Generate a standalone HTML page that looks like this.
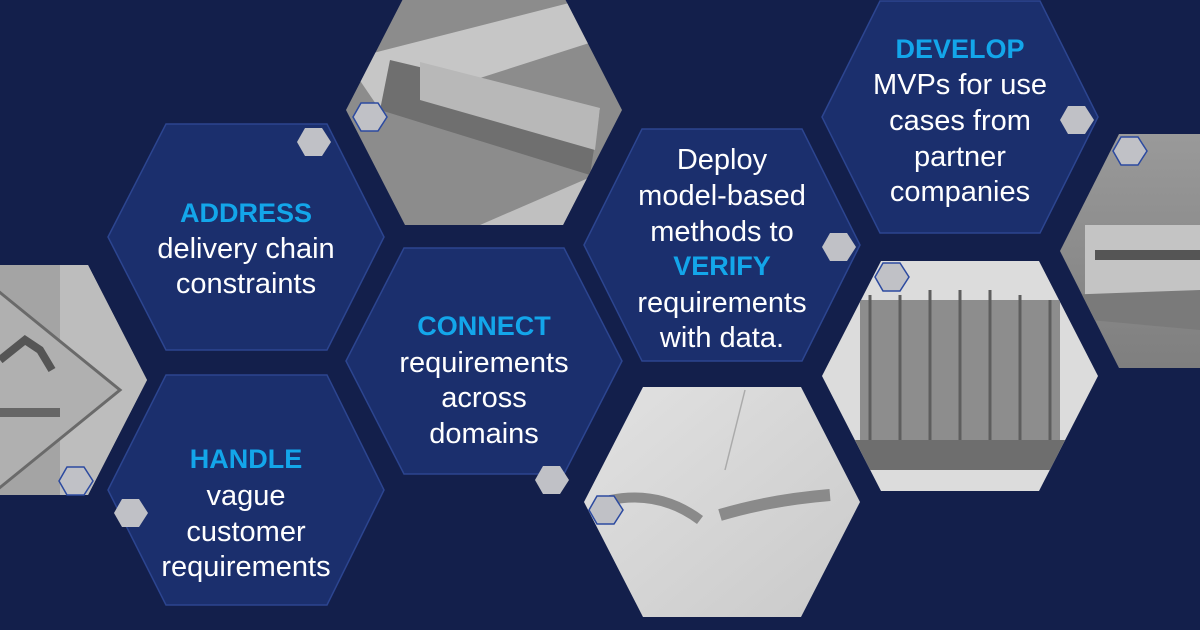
<!DOCTYPE html>
<html><head><meta charset="utf-8"><style>
html,body{margin:0;padding:0;background:#131f4b;}
svg{display:block}
text{font-family:"Liberation Sans",sans-serif;font-size:29px;fill:#fff;text-anchor:middle}
.b{fill:#13a6ea;font-weight:bold;font-size:27px}
</style></head><body>
<svg width="1200" height="630" viewBox="0 0 1200 630" xmlns="http://www.w3.org/2000/svg">
<defs>
<linearGradient id="g2" x1="0" y1="0" x2="1" y2="1"><stop offset="0" stop-color="#e2e2e2"/><stop offset="1" stop-color="#c9c9c9"/></linearGradient>
<linearGradient id="g3" x1="0" y1="0" x2="0" y2="1"><stop offset="0" stop-color="#9a9a9a"/><stop offset="1" stop-color="#7e7e7e"/></linearGradient>
<clipPath id="cSign"><polygon points="-130,380 -71,265 88,265 147,380 88,495 -71,495"/></clipPath>
<clipPath id="cShip"><polygon points="346,110 405,-5 563,-5 622,110 563,225 405,225"/></clipPath>
<clipPath id="cHands"><polygon points="584,502 643,387 801,387 860,502 801,617 643,617"/></clipPath>
<clipPath id="cEng"><polygon points="822,376 881,261 1039,261 1098,376 1039,491 881,491"/></clipPath>
<clipPath id="cBoat"><polygon points="1060,251 1119,134 1277,134 1336,251 1277,368 1119,368"/></clipPath>
</defs>
<rect width="1200" height="630" fill="#131f4b"/>

<g clip-path="url(#cSign)">
<rect x="-130" y="260" width="280" height="240" fill="#a4a4a4"/>
<rect x="60" y="260" width="90" height="240" fill="#bdbdbd"/>
<polygon points="-40,260 120,390 -40,520" fill="#b0b0b0" stroke="#6a6a6a" stroke-width="3"/>
<path d="M0,360 L25,340 L40,350 L52,370" stroke="#555" stroke-width="8" fill="none"/>
<rect x="-10" y="408" width="70" height="9" fill="#666"/>
</g>
<g clip-path="url(#cShip)">
<rect x="340" y="-10" width="290" height="240" fill="#8c8c8c"/>
<polygon points="346,60 620,-10 630,30 380,110" fill="#c6c6c6"/>
<polygon points="390,60 600,110 590,175 380,110" fill="#6f6f6f"/>
<polygon points="420,62 600,108 595,150 420,100" fill="#b8b8b8"/>
<polygon points="480,225 630,160 630,230" fill="#c0c0c0"/>
</g>
<g clip-path="url(#cHands)">
<rect x="580" y="380" width="290" height="240" fill="url(#g2)"/>
<path d="M610,500 Q660,490 700,520" stroke="#8a8a8a" stroke-width="10" fill="none"/>
<path d="M720,515 Q770,500 830,495" stroke="#8a8a8a" stroke-width="12" fill="none"/>
<path d="M745,390 L725,470" stroke="#aaa" stroke-width="1.5" fill="none"/>
</g>
<g clip-path="url(#cEng)">
<rect x="820" y="255" width="290" height="240" fill="#dcdcdc"/>
<rect x="860" y="300" width="200" height="150" fill="#8d8d8d"/>
<g stroke="#5e5e5e" stroke-width="3">
<line x1="870" y1="295" x2="870" y2="440"/><line x1="900" y1="295" x2="900" y2="440"/><line x1="930" y1="290" x2="930" y2="440"/><line x1="960" y1="290" x2="960" y2="440"/><line x1="990" y1="290" x2="990" y2="440"/><line x1="1020" y1="295" x2="1020" y2="440"/><line x1="1050" y1="300" x2="1050" y2="440"/>
</g>
<rect x="840" y="440" width="240" height="30" fill="#6e6e6e"/>
</g>
<g clip-path="url(#cBoat)">
<rect x="1055" y="130" width="290" height="245" fill="url(#g3)"/>
<rect x="1085" y="225" width="130" height="70" fill="#c4c4c4"/>
<rect x="1095" y="250" width="120" height="10" fill="#555"/>
<polygon points="1060,295 1200,290 1200,330 1090,320" fill="#7a7a7a"/>
</g>

<g fill="#1b2f6d" stroke="#2c4590" stroke-width="1.5">
<polygon points="108,237 166,124 327,124 384,237 327,350 166,350"/>
<polygon points="108,490 166,375 327,375 384,490 327,605 166,605"/>
<polygon points="346,361 404,248 564,248 622,361 564,474 404,474"/>
<polygon points="584,245 642,129 802,129 860,245 802,361 642,361"/>
<polygon points="822,117 880,1 1040,1 1098,117 1040,233 880,233"/>
</g>

<g fill="#c0c1c6">
<polygon points="297,142 305,128 322,128 331,142 322,156 305,156"/>
<polygon points="114,513 122,499 139,499 148,513 139,527 122,527"/>
<polygon points="535,480 543,466 560,466 569,480 560,494 543,494"/>
<polygon points="822,247 830,233 847,233 856,247 847,261 830,261"/>
<polygon points="1060,120 1068,106 1085,106 1094,120 1085,134 1068,134"/>
</g>
<g fill="#c0c1c6" stroke="#2c4aa0" stroke-width="1.5">
<polygon points="353,117 361,103 378,103 387,117 378,131 361,131"/>
<polygon points="59,481 67,467 84,467 93,481 84,495 67,495"/>
<polygon points="589,510 597,496 614,496 623,510 614,524 597,524"/>
<polygon points="875,277 883,263 900,263 909,277 900,291 883,291"/>
<polygon points="1113,151 1121,137 1138,137 1147,151 1138,165 1121,165"/>
</g>

<text x="246" y="222" class="b">ADDRESS</text>
<text x="246" y="258">delivery chain</text>
<text x="246" y="293">constraints</text>

<text x="246" y="468" class="b">HANDLE</text>
<text x="246" y="505">vague</text>
<text x="246" y="541">customer</text>
<text x="246" y="576">requirements</text>

<text x="484" y="335" class="b">CONNECT</text>
<text x="484" y="372">requirements</text>
<text x="484" y="407">across</text>
<text x="484" y="443">domains</text>

<text x="722" y="169">Deploy</text>
<text x="722" y="205">model-based</text>
<text x="722" y="241">methods to</text>
<text x="722" y="275" class="b">VERIFY</text>
<text x="722" y="312">requirements</text>
<text x="722" y="347">with data.</text>

<text x="960" y="58" class="b">DEVELOP</text>
<text x="960" y="94">MVPs for use</text>
<text x="960" y="130">cases from</text>
<text x="960" y="166">partner</text>
<text x="960" y="201">companies</text>
</svg>
</body></html>
